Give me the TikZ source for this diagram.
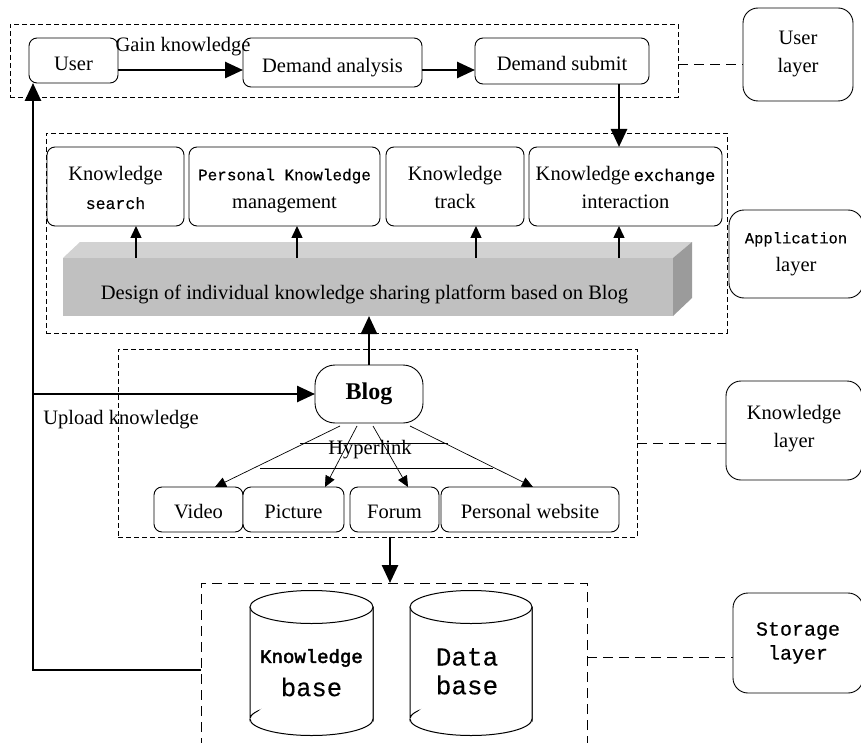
\documentclass[tikz,border=0pt]{standalone}
\usepackage{fontspec}
\setmainfont{Liberation Serif}
\newfontfamily\monof[FakeBold=0.3]{Liberation Mono}
\newfontfamily\monoblack[FakeBold=2.4]{Liberation Mono}
\usetikzlibrary{arrows.meta}
\definecolor{barfront}{RGB}{192,192,192}
\definecolor{bartop}{RGB}{210,210,210}
\definecolor{barside}{RGB}{155,155,155}
\newcommand{\monotext}[2]{{\monof\fontsize{#1}{28}\selectfont #2}}
\newcommand{\lnstrut}{\rule[-3pt]{0pt}{23pt}}
\begin{document}
\begin{tikzpicture}[x=1pt,y=-1pt,
  txt/.style={font=\fontsize{20.5}{28}\selectfont, inner sep=0pt},
  roundbox/.style={txt, draw, rounded corners=8pt, line width=0.9pt, fill=white, outer sep=0pt, align=center},
  layerbox/.style={roundbox, rounded corners=15pt},
  rowtext/.style={text height=20pt, text depth=0pt},
  itemtext/.style={text height=17pt, text depth=0pt},
  zone/.style={draw, dash pattern=on 5pt off 3pt, line width=0.8pt, inner sep=0pt, outer sep=0pt},
  widezone/.style={zone, dash pattern=on 10pt off 6pt},
  tie/.style={dash pattern=on 10pt off 6pt, line width=0.9pt},
  bigarrow/.style={line width=2.6pt, -{Triangle[length=18pt,width=16pt]}},
  smallarrow/.style={line width=1.5pt, -{Triangle[length=12pt,width=11pt]}},
  linkarrow/.style={line width=0.7pt, -{Triangle[length=11pt,width=10pt]}},
  drum/.style={line width=1pt, fill=white},
]
\useasboundingbox (0,0) rectangle (861,743);
\fill[white] (0,0) rectangle (861,743);

% layer zones
\node[zone, minimum width=668pt, minimum height=73pt] (ubox) at (344,60.5) {};
\node[zone, minimum width=681pt, minimum height=200pt] (abox) at (386.5,233) {};
\node[zone, minimum width=519pt, minimum height=188pt] (kbox) at (377.5,443) {};
\node[widezone, minimum width=386pt, minimum height=177pt] (sbox) at (394,671.5) {};

% layer names on the right
\node[layerbox, minimum width=110pt, minimum height=93pt] (ulayer) at (798,54.5) {User\\layer};
\node[layerbox, minimum width=134pt, minimum height=88pt] (alayer) at (796,254) {\monotext{15.5}{Application}\\layer};
\node[layerbox, minimum width=136pt, minimum height=99pt, text depth=8pt] (klayer) at (794,430.5) {Knowledge\\layer};
\node[layerbox, minimum width=130pt, minimum height=100pt, font=\monof\fontsize{20}{24}\selectfont] (slayer) at (798,643) {Storage\\layer};

% ties between zones and layer names
\coordinate (uy) at (0,64);
\coordinate (ay) at (0,257);
\coordinate (ky) at (0,443);
\coordinate (sy) at (0,657);
\draw[tie] (ubox.east |- uy) -- (ulayer.west |- uy);
\draw[line width=0.9pt] (abox.east |- ay) -- (alayer.west |- ay);
\draw[tie] (kbox.east |- ky) -- (klayer.west |- ky);
\draw[tie] (sbox.east |- sy) -- (slayer.west |- sy);

% user layer
\node[roundbox, rowtext, minimum width=89pt, minimum height=45pt] (user) at (73.5,60.5) {User};
\node[roundbox, rowtext, minimum width=179pt, minimum height=49pt] (dana) at (332.5,62.5) {Demand analysis};
\node[roundbox, rowtext, minimum width=174pt, minimum height=46pt] (dsub) at (562,61) {Demand submit};
\node[txt] (gain) at (183,47) {Gain knowledge};

% application layer
\node[roundbox, minimum width=137pt, minimum height=79pt] (ksearch) at (115.5,186.5) {\lnstrut Knowledge\\\lnstrut\monotext{16.5}{search}};
\node[roundbox, minimum width=191pt, minimum height=79pt] (pkm) at (284.5,186.5) {\lnstrut\monotext{16}{Personal Knowledge}\\\lnstrut management};
\node[roundbox, minimum width=138pt, minimum height=79pt] (ktrack) at (455,186.5) {\lnstrut Knowledge\\\lnstrut track};
\node[roundbox, minimum width=193pt, minimum height=79pt] (kei) at (625.5,186.5) {\lnstrut Knowledge\,\monotext{17}{exchange}\\\lnstrut interaction};

% platform bar
\fill[bartop] (63,258) -- (80,242) -- (692,242) -- (673,258) -- cycle;
\fill[barside] (673,258) -- (692,242) -- (692,298) -- (673,316) -- cycle;
\node[fill=barfront, inner sep=0pt, outer sep=0pt, minimum width=610pt, minimum height=58pt] (bar) at (368,287) {};
\node[txt] (bartext) at (364.5,294) {Design of individual knowledge sharing platform based on Blog};

% knowledge layer
\node[roundbox, rounded corners=20pt, minimum width=108pt, minimum height=58pt, font=\fontsize{24}{28}\selectfont\bfseries] (blog) at (369,394) {Blog};
\node[roundbox, itemtext, minimum width=89pt, minimum height=45pt] (video) at (198.5,509.5) {Video};
\node[roundbox, itemtext, minimum width=101pt, minimum height=45pt] (picture) at (293.5,509.5) {Picture};
\node[roundbox, itemtext, minimum width=89pt, minimum height=45pt] (forum) at (394.5,509.5) {Forum};
\node[roundbox, itemtext, minimum width=178pt, minimum height=45pt] (pweb) at (530,509.5) {Personal website};
\node[txt] (hyper) at (370,450) {Hyperlink};
\draw[line width=0.8pt] (300,443) -- (448,443);
\draw[line width=0.8pt] (260,468) -- (493,468);
\node[txt] (upload) at (121,420) {Upload knowledge};

% storage layer
\draw[drum] (250,719) -- (250,607) -- (373,607) -- (373,719) arc[start angle=0, end angle=180, x radius=61.5pt, y radius=16.5pt] -- cycle;
\draw[drum] (250,719) arc[start angle=180, end angle=360, x radius=61.5pt, y radius=16.5pt] -- (373,607);
\draw[drum] (311.5,607) ellipse [x radius=61.5pt, y radius=16.5pt];
\node[inner sep=0pt, font=\monoblack\fontsize{19}{24}\selectfont] (kbase1) at (311.5,658) {Knowledge};
\node[inner sep=0pt, font=\monof\fontsize{25.5}{30}\selectfont] (kbase2) at (311.5,687) {base};
\draw[drum] (410,719) -- (410,607) -- (532,607) -- (532,719) arc[start angle=0, end angle=180, x radius=61pt, y radius=16.5pt] -- cycle;
\draw[drum] (410,719) arc[start angle=180, end angle=360, x radius=61pt, y radius=16.5pt] -- (532,607);
\draw[drum] (471,607) ellipse [x radius=61pt, y radius=16.5pt];
\node[inner sep=0pt, font=\monof\fontsize{26}{30}\selectfont] (dbase1) at (467,657) {Data};
\node[inner sep=0pt, font=\monof\fontsize{26}{30}\selectfont] (dbase2) at (467,685) {base};

% flows
\coordinate (gy) at (0,70);
\draw[bigarrow] (user.east |- gy) -- (dana.west |- gy);
\draw[bigarrow] (dana.east |- gy) -- (dsub.west |- gy);
\coordinate (sx) at (619,0);
\draw[bigarrow] (dsub.south -| sx) -- (kei.north -| sx);

\coordinate (ax1) at (136,0);
\coordinate (ax2) at (297,0);
\coordinate (ax3) at (476,0);
\coordinate (ax4) at (619,0);
\draw[smallarrow] (bar.north -| ax1) -- (ksearch.south -| ax1);
\draw[smallarrow] (bar.north -| ax2) -- (pkm.south -| ax2);
\draw[smallarrow] (bar.north -| ax3) -- (ktrack.south -| ax3);
\draw[smallarrow] (bar.north -| ax4) -- (kei.south -| ax4);

\draw[bigarrow] (blog.north) -- (bar.south -| blog.north);

\draw[linkarrow] ([xshift=-29pt,yshift=-3pt]blog.south) -- ([xshift=16.5pt]video.north);
\draw[linkarrow] ([xshift=-12pt,yshift=-3pt]blog.south) -- ([xshift=31.5pt]picture.north);
\draw[linkarrow] ([xshift=4pt,yshift=-3pt]blog.south) -- ([xshift=13.5pt]forum.north);
\draw[linkarrow] ([xshift=41pt,yshift=-3pt]blog.south) -- ([xshift=3pt]pweb.north);

\coordinate (fx) at (390,0);
\draw[bigarrow] (kbox.south -| fx) -- (sbox.north -| fx);

\coordinate (upx) at (33,0);
\coordinate (upy) at (0,670);
\draw[bigarrow] (sbox.west |- upy) -- (upx |- upy) -- (user.south -| upx);
\draw[bigarrow] (upx |- blog.west) -- (blog.west);
\end{tikzpicture}
\end{document}
